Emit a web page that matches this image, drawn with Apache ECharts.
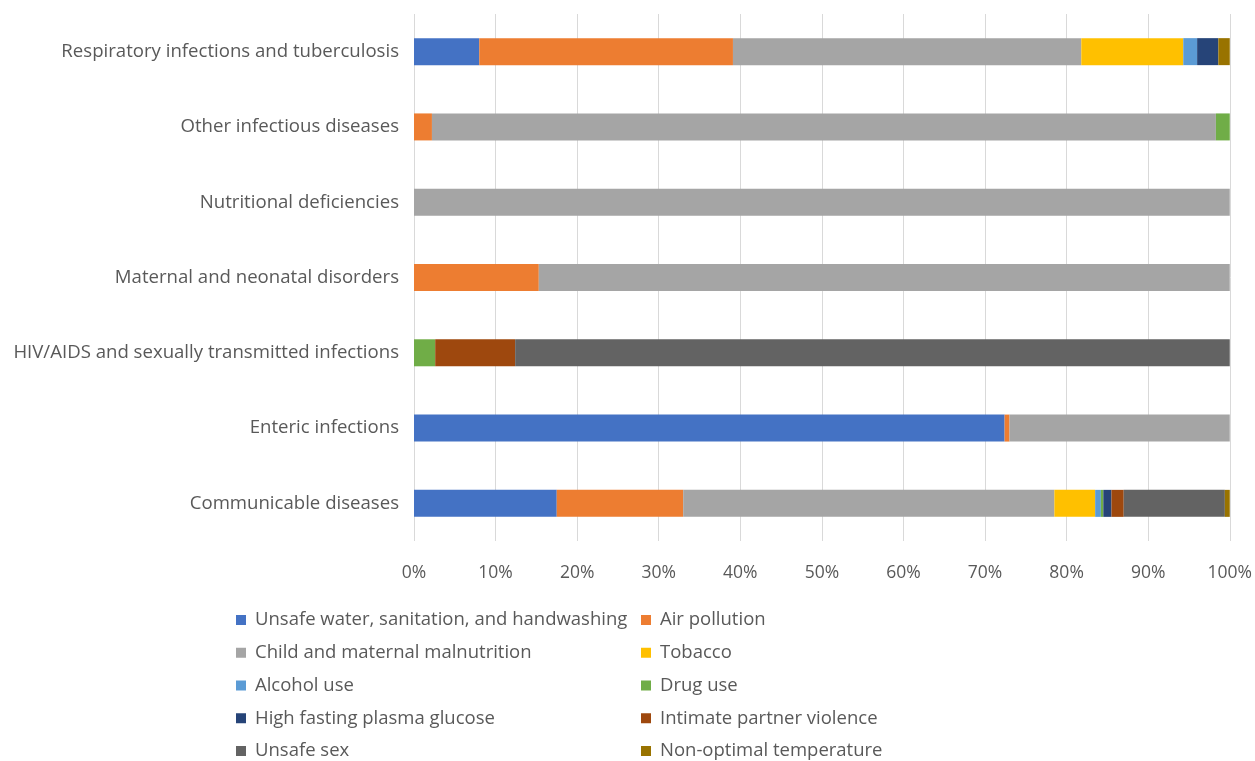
<!DOCTYPE html>
<html><head><meta charset="utf-8">
<script src="https://cdn.jsdelivr.net/npm/echarts@6/dist/echarts.min.js"></script>
<style>html,body{margin:0;padding:0;background:#fff}#c{width:1255px;height:761px}</style>
</head><body><div id="c"></div>
<script>
const categories = ["Communicable diseases","Enteric infections","HIV/AIDS and sexually transmitted infections","Maternal and neonatal disorders","Nutritional deficiencies","Other infectious diseases","Respiratory infections and tuberculosis"];
const seriesNames = ["Unsafe water, sanitation, and handwashing","Air pollution","Child and maternal malnutrition","Tobacco","Alcohol use","Drug use","High fasting plasma glucose","Intimate partner violence","Unsafe sex","Non-optimal temperature"];
// values in % per category (same order as categories)
const unsafeWater   = [17.5, 72.4, 0,    0,    0,   0,    8.0];
const airPollution  = [15.5, 0.6,  0,    15.3, 0,   2.2,  31.1];
const malnutrition  = [45.5, 27.0, 0,    84.7, 100, 96.1, 42.7];
const tobacco       = [5.0,  0,    0,    0,    0,   0,    12.5];
const alcohol       = [0.7,  0,    0,    0,    0,   0,    1.7];
const drugUse       = [0.3,  0,    2.6,  0,    0,   1.7,  0];
const glucose       = [1.0,  0,    0,    0,    0,   0,    2.6];
const partnerViol   = [1.5,  0,    9.8,  0,    0,   0,    0];
const unsafeSex     = [12.4, 0,    87.6, 0,    0,   0,    0];
const temperature   = [0.6,  0,    0,    0,    0,   0,    1.4];
const seriesValues = [unsafeWater, airPollution, malnutrition, tobacco, alcohol, drugUse, glucose, partnerViol, unsafeSex, temperature];
const colors = ["#4472C4","#ED7D31","#A5A5A5","#FFC000","#5B9BD5","#70AD47","#264478","#9E480E","#636363","#997300"];
const xTicks = {min:0, max:100, interval:10};

const font = "'Open Sans', 'Noto Sans', sans-serif";
const chart = echarts.init(document.getElementById('c'), null, {renderer:'canvas'});
const legendCommon = {
  orient:'vertical', itemWidth:10, itemHeight:10, itemGap:9.75, icon:'rect', padding:0,
  textStyle:{color:'#595959', fontSize:18.5, fontFamily:font, padding:[0,0,0,4], lineHeight:23},
  top:608.5, height:160
};
chart.setOption({
  animation:false,
  color: colors,
  grid:{left:414, right:25, top:14, bottom:220, containLabel:false},
  xAxis:{type:'value', min:xTicks.min, max:xTicks.max, interval:xTicks.interval,
    axisLabel:{formatter:'{value}%', color:'#595959', fontSize:17.5, fontFamily:font, margin:23},
    axisLine:{show:false}, axisTick:{show:false},
    splitLine:{show:true, lineStyle:{color:'#d9d9d9', width:1}}},
  yAxis:{type:'category', data:categories,
    axisLabel:{color:'#595959', fontSize:18.6, fontFamily:font, margin:15},
    axisLine:{show:false}, axisTick:{show:false}},
  legend:[
    Object.assign({left:236, data:seriesNames.filter((_,i)=>i%2===0)}, legendCommon),
    Object.assign({left:641, data:seriesNames.filter((_,i)=>i%2===1)}, legendCommon)
  ],
  series: seriesNames.map((n,i)=>({
    name:n, type:'bar', stack:'total', barWidth:27, data:seriesValues[i],
    itemStyle:{color:colors[i]}
  }))
});
</script></body></html>
